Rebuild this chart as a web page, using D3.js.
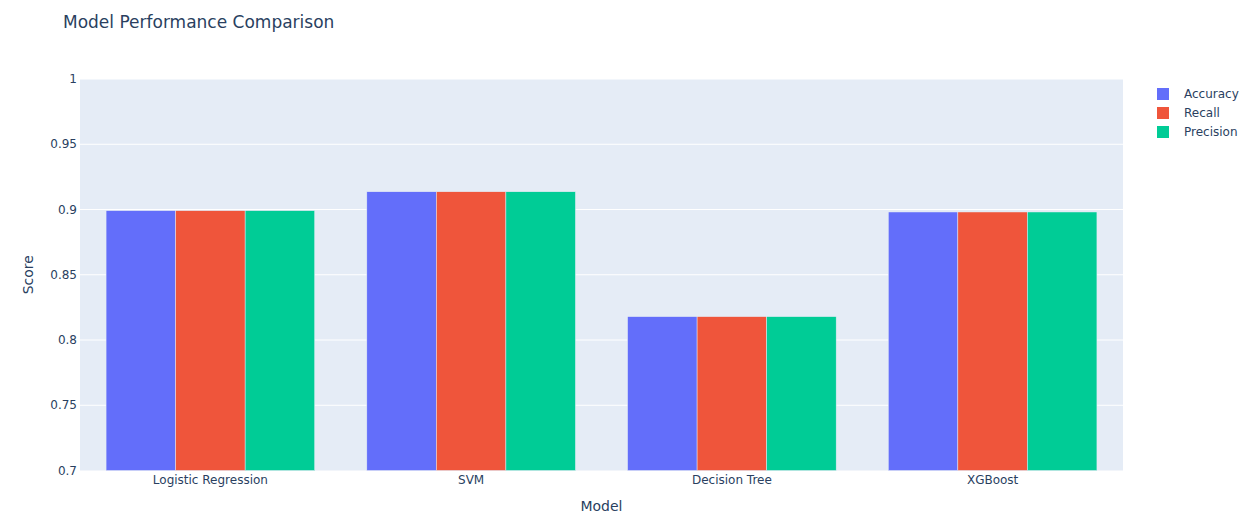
<!DOCTYPE html>
<html>
<head>
<meta charset="utf-8">
<script src="https://cdn.jsdelivr.net/npm/d3@7/dist/d3.min.js"></script>
<style>
  body { margin: 0; background: #fff; }
  svg text { font-family: "DejaVu Sans", Verdana, sans-serif; fill: #2a3f5f; }
</style>
</head>
<body>
<svg id="chart" width="1256" height="525"></svg>
<script>
const models = ["Logistic Regression", "SVM", "Decision Tree", "XGBoost"];
const metrics = ["Accuracy", "Recall", "Precision"];
const colors = ["#636efa", "#EF553B", "#00cc96"];
const accuracy = [0.8991, 0.9136, 0.8179, 0.8981];
const recall = [0.8991, 0.9136, 0.8179, 0.8981];
const precision = [0.8991, 0.9136, 0.8179, 0.8981];
const yTicks = [0.7, 0.75, 0.8, 0.85, 0.9, 0.95, 1];

const series = [accuracy, recall, precision];

const margin = { left: 80, top: 79, right: 133, bottom: 54.5 };
const W = 1256, H = 525;
const plotW = W - margin.left - margin.right;
const plotH = H - margin.top - margin.bottom;

const svg = d3.select("#chart");

const x = d3.scaleBand().domain(models).range([0, plotW]).paddingInner(0.2).paddingOuter(0.1);
const xSub = d3.scaleBand().domain(metrics).range([0, x.bandwidth()]);
const y = d3.scaleLinear().domain([0.7, 1]).range([plotH, 0]);

const g = svg.append("g").attr("transform", `translate(${margin.left},${margin.top})`);

// background
g.append("rect")
  .attr("width", plotW)
  .attr("height", plotH)
  .style("fill", "#e5ecf6");

// gridlines
g.selectAll(".grid")
  .data(yTicks.filter(t => t > 0.7))
  .join("line")
  .attr("x1", 0)
  .attr("x2", plotW)
  .attr("y1", d => y(d))
  .attr("y2", d => y(d))
  .attr("stroke", "#fff")
  .attr("stroke-width", 1);

// bars
metrics.forEach((m, i) => {
  g.append("g")
    .selectAll("rect")
    .data(models.map((name, j) => ({ name, value: series[i][j] })))
    .join("rect")
    .attr("x", d => x(d.name) + xSub(m))
    .attr("y", d => y(d.value))
    .attr("width", xSub.bandwidth())
    .attr("height", d => plotH - y(d.value))
    .style("fill", colors[i])
    .attr("stroke", "#e5ecf6")
    .attr("stroke-width", 0.5);
});

// y axis labels
g.selectAll(".ytick")
  .data(yTicks)
  .join("text")
  .attr("x", -3)
  .attr("y", d => y(d))
  .attr("dy", "0.35em")
  .attr("text-anchor", "end")
  .style("font-size", "12px")
  .text(d => d3.format("")(+d.toFixed(2)));

// x axis labels
g.selectAll(".xtick")
  .data(models)
  .join("text")
  .attr("x", d => x(d) + x.bandwidth() / 2)
  .attr("y", plotH + 13)
  .attr("text-anchor", "middle")
  .style("font-size", "12px")
  .text(d => d);

// axis titles
svg.append("text")
  .attr("x", margin.left + plotW / 2)
  .attr("y", 511)
  .attr("text-anchor", "middle")
  .style("font-size", "14px")
  .text("Model");

svg.append("text")
  .attr("transform", `translate(33,${margin.top + plotH / 2}) rotate(-90)`)
  .attr("text-anchor", "middle")
  .style("font-size", "14px")
  .text("Score");

// title
svg.append("text")
  .attr("x", 63)
  .attr("y", 28)
  .style("font-size", "17px")
  .text("Model Performance Comparison");

// legend
const legend = svg.append("g").attr("transform", "translate(1157,94)");
metrics.forEach((m, i) => {
  const row = legend.append("g").attr("transform", `translate(0,${i * 19})`);
  row.append("rect")
    .attr("x", 0)
    .attr("y", -6)
    .attr("width", 12)
    .attr("height", 12)
    .style("fill", colors[i]);
  row.append("text")
    .attr("x", 27)
    .attr("y", 0)
    .attr("dy", "0.35em")
    .style("font-size", "12px")
    .text(m);
});
</script>
</body>
</html>
